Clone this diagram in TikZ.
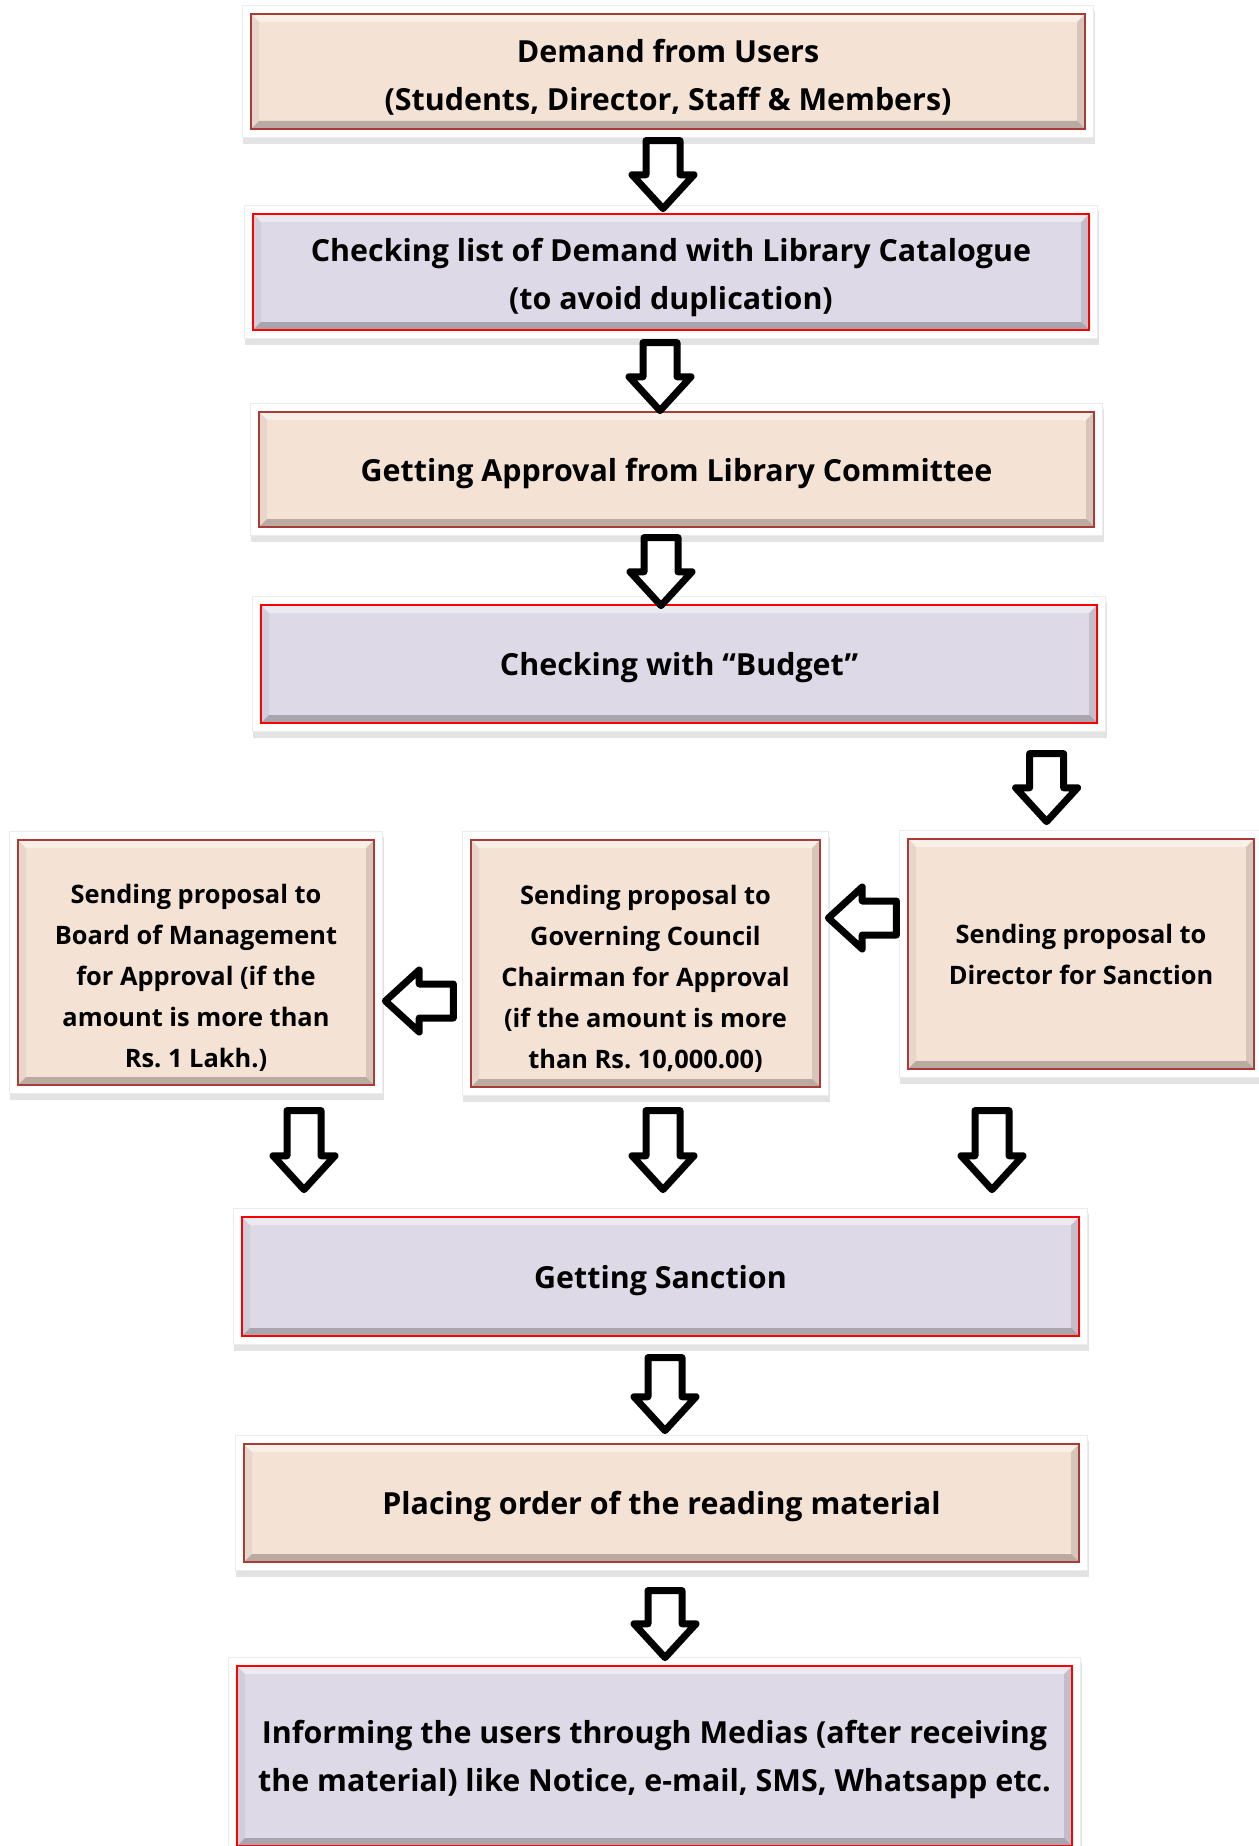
\documentclass[tikz,border=0pt]{standalone}
\usepackage{fontspec}
\setmainfont{Open Sans}
\frenchspacing
\usetikzlibrary{shapes.arrows,shadows,backgrounds,calc}

\definecolor{peach}{RGB}{244,226,212}
\definecolor{lilac}{RGB}{222,217,230}
\definecolor{rimbrown}{RGB}{170,60,55}

\tikzset{
  bevel/.style={path picture={
      \coordinate (bl) at (path picture bounding box.south west);
      \coordinate (tr) at (path picture bounding box.north east);
      \fill[white,opacity=.45] (bl|-tr) -- (tr) -- ($(tr)+(-4pt,-4pt)$) -- ($(bl|-tr)+(4pt,-4pt)$) -- cycle;
      \fill[black,opacity=.24] (bl) -- (bl-|tr) -- ($(bl-|tr)+(-4pt,4pt)$) -- ($(bl)+(4pt,4pt)$) -- cycle;
      \fill[black,opacity=.05] (bl) -- (bl|-tr) -- ($(bl|-tr)+(4pt,-4pt)$) -- ($(bl)+(4pt,4pt)$) -- cycle;
      \fill[black,opacity=.12] (tr) -- (bl-|tr) -- ($(bl-|tr)+(-4pt,4pt)$) -- ($(tr)+(-4pt,-4pt)$) -- cycle;
    }},
  stage/.style={line width=0.6pt, align=center, inner sep=0pt, bevel,
    font=\bfseries\fontsize{15.2}{24}\selectfont,
    execute at begin node={\rule{0pt}{15.6pt}}},
  peachbox/.style={stage, fill=peach, draw=rimbrown},
  lilacbox/.style={stage, fill=lilac, draw=red},
  smalltext/.style={font=\bfseries\fontsize{12.7}{20.5}\selectfont,
    execute at begin node={}},
  blockarr/.style={shape=single arrow, draw=black, fill=white, line width=3.5pt,
    line join=round, inner xsep=0pt, inner ysep=6.75pt, minimum height=34pt,
    single arrow head extend=7pt, single arrow tip angle=85, anchor=tail},
  downarr/.style={blockarr, rotate=-90},
  leftarr/.style={blockarr, rotate=180}
}

\begin{document}
\begin{tikzpicture}[x=0.5pt,y=0.5pt]
\useasboundingbox (0,0) rectangle (1258,-1846);

% main column
\node[peachbox, minimum width=417pt, minimum height=57.5pt] (demand) at (668,-71.5)
  {\rule{0pt}{17pt}Demand from Users\\(Students, Director, Staff \& Members)};
\node[lilacbox, minimum width=418pt, minimum height=58pt] (check) at (671,-272)
  {\rule{0pt}{17.5pt}Checking list of Demand with Library Catalogue\\(to avoid duplication)};
\node[peachbox, minimum width=417.5pt, minimum height=57.5pt] (approve) at (676.5,-469.5)
  {Getting Approval from Library Committee};
\node[lilacbox, minimum width=418pt, minimum height=59pt] (budget) at (679,-664)
  {Checking with ``Budget''};

% three ways of sending the proposal
\node[peachbox, smalltext, minimum width=173pt, minimum height=115pt] (director) at (1081,-954)
  {Sending proposal to\\Director for Sanction};
\node[peachbox, smalltext, minimum width=174.5pt, minimum height=123.5pt] (council) at (645.5,-963.5)
  {\rule{0pt}{25pt}Sending proposal to\\Governing Council\\Chairman for Approval\\(if the amount is more\\than Rs. 10,000.00)};
\node[peachbox, smalltext, minimum width=178pt, minimum height=122.5pt] (board) at (196,-962.5)
  {\rule{0pt}{25pt}Sending proposal to\\Board of Management\\for Approval (if the\\amount is more than\\Rs. 1 Lakh.)};

\node[lilacbox, minimum width=418.5pt, minimum height=59.5pt] (sanction) at (660.5,-1276.5)
  {Getting Sanction};
\node[peachbox, minimum width=417.5pt, minimum height=59pt] (order) at (661.5,-1503)
  {Placing order of the reading material};
\node[lilacbox, minimum width=417.5pt, minimum height=90pt] (inform) at (654.5,-1756)
  {\rule{0pt}{15pt}Informing the users through Medias (after receiving\\the material) like Notice, e-mail, SMS, Whatsapp etc.};

% white frames with shadow
\begin{scope}[on background layer]
  \foreach \b in {demand,check,approve,budget,director,council,board,sanction,order,inform}
    \fill[white, draw=black!8, line width=0.4pt,
      drop shadow={opacity=.22, shadow xshift=0.5pt, shadow yshift=-3pt}]
      ($(\b.south west)+(-4pt,-4pt)$) rectangle ($(\b.north east)+(4pt,4pt)$);
\end{scope}

% arrows
\node[downarr] (a1) at ($(demand.south)+(-5,-7.5)$) {};
\node[downarr] (a2) at ($(check.south)+(-11,-8.5)$) {};
\node[downarr] (a3) at ($(approve.south)+(-15.5,-6.5)$) {};
\node[downarr] (a4) at ($(budget.south east)+(-51,-26.5)$) {};
\node[leftarr] (a5) at ($(director.west)+(-7.5,36)$) {};
\node[leftarr] (a6) at ($(council.west)+(-13.5,-37.5)$) {};
\node[downarr, minimum height=39.5pt] (a7) at ($(board.south)+(108,-21.5)$) {};
\node[downarr, minimum height=39.5pt] (a8) at ($(council.south)+(17.5,-19.5)$) {};
\node[downarr, minimum height=39.5pt] (a9) at ($(director.south)+(-89,-37.5)$) {};
\node[downarr, minimum height=36.5pt] (a10) at ($(sanction.south)+(4.5,-17.5)$) {};
\node[downarr, minimum height=33.5pt] (a11) at ($(order.south)+(3.5,-24.5)$) {};
\end{tikzpicture}
\end{document}
